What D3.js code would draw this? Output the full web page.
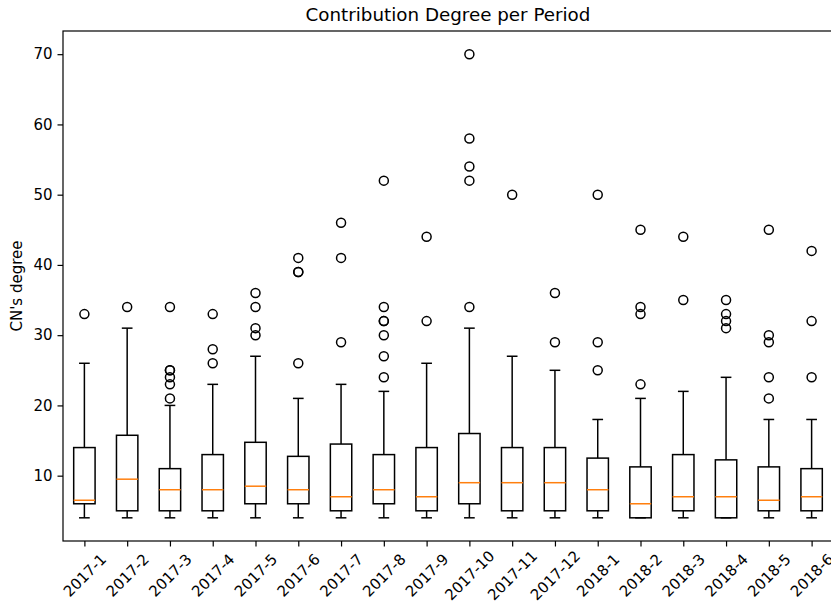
<!DOCTYPE html>
<html>
<head>
<meta charset="utf-8">
<script src="https://cdn.jsdelivr.net/npm/d3@7"></script>
<style>
  html, body { margin: 0; padding: 0; background: #fff; }
  svg { display: block; font-family: "DejaVu Sans", sans-serif; }
</style>
</head>
<body>
<svg id="chart" width="831" height="606"></svg>
<script>
const categories = ["2017-1","2017-2","2017-3","2017-4","2017-5","2017-6","2017-7","2017-8","2017-9","2017-10","2017-11","2017-12","2018-1","2018-2","2018-3","2018-4","2018-5","2018-6"];
const whiskerLow  = [4,4,4,4,4,4,4,4,4,4,4,4,4,4,4,4,4,4];
const q1          = [6,5,5,5,6,6,5,6,5,6,5,5,5,4,5,4,5,5];
const median      = [6.5,9.5,8,8,8.5,8,7,8,7,9,9,9,8,6,7,7,6.5,7];
const q3          = [14,15.75,11,13,14.75,12.75,14.5,13,14,16,14,14,12.5,11.25,13,12.25,11.25,11];
const whiskerHigh = [26,31,20,23,27,21,23,22,26,31,27,25,18,21,22,24,18,18];
const outliers = [
  [33],
  [34],
  [21,23,24,25,25,34],
  [26,28,33],
  [30,31,34,36],
  [26,39,39,41],
  [29,41,46],
  [24,27,30,32,32,34,52],
  [32,44],
  [34,52,54,58,70],
  [50],
  [29,36],
  [25,29,50],
  [23,33,34,45],
  [35,44],
  [31,32,33,35],
  [21,24,29,30,45],
  [24,32,42]
];
const yTicks = [10,20,30,40,50,60,70];
const title = "Contribution Degree per Period";
const yLabel = "CN's degree";

(function () {
const svg = d3.select("#chart");
const mLeft = 63, mRight = 833, mTop = 31, mBottom = 541;
const x = d3.scaleLinear().domain([0.5, categories.length + 0.5]).range([mLeft, mRight]);
const y = d3.scaleLinear().domain([0.7, 73.3]).range([mBottom, mTop]);
const pos = i => x(i + 1);
const boxHalf = (x(1.25) - x(1));     // widths 0.5
const capHalf = (x(1.125) - x(1));    // cap 0.25
const lw = 1.5;

const g = svg.append("g");

categories.forEach((c, i) => {
  const cx = pos(i);
  g.append("line").attr("x1", cx).attr("x2", cx).attr("y1", y(whiskerLow[i])).attr("y2", y(q1[i]))
    .attr("stroke", "#000").attr("stroke-width", lw);
  g.append("line").attr("x1", cx).attr("x2", cx).attr("y1", y(q3[i])).attr("y2", y(whiskerHigh[i]))
    .attr("stroke", "#000").attr("stroke-width", lw);
  [whiskerLow[i], whiskerHigh[i]].forEach(v => {
    g.append("line").attr("x1", cx - capHalf).attr("x2", cx + capHalf).attr("y1", y(v)).attr("y2", y(v))
      .attr("stroke", "#000").attr("stroke-width", lw);
  });
  g.append("rect").attr("x", cx - boxHalf).attr("width", boxHalf * 2)
    .attr("y", y(q3[i])).attr("height", y(q1[i]) - y(q3[i]))
    .attr("fill", "none").attr("stroke", "#000").attr("stroke-width", lw);
  g.append("line").attr("x1", cx - boxHalf).attr("x2", cx + boxHalf).attr("y1", y(median[i])).attr("y2", y(median[i]))
    .attr("stroke", "#ff7f0e").attr("stroke-width", lw);
  g.selectAll(null).data(outliers[i]).enter().append("circle")
    .attr("cx", cx).attr("cy", d => y(d)).attr("r", 4.5)
    .attr("fill", "none").attr("stroke", "#000").attr("stroke-width", lw);
});

svg.append("rect").attr("x", mLeft).attr("y", mTop).attr("width", mRight - mLeft).attr("height", mBottom - mTop)
  .attr("fill", "none").attr("stroke", "#000").attr("stroke-width", 1.2);

const yAxis = d3.axisLeft(y).tickValues(yTicks).tickSize(5.5).tickPadding(5).tickFormat(d3.format("d"));
const ya = svg.append("g").attr("transform", `translate(${mLeft},0)`).call(yAxis);
ya.select(".domain").remove();
ya.selectAll("line").attr("stroke", "#000").attr("stroke-width", 1.2);
ya.selectAll("text").attr("font-size", 15).attr("font-family", "DejaVu Sans").attr("fill", "#000");

const xAxis = d3.axisBottom(x).tickValues(categories.map((c, i) => i + 1)).tickSize(5.5).tickFormat(d => categories[d - 1]);
const xa = svg.append("g").attr("transform", `translate(0,${mBottom})`).call(xAxis);
xa.select(".domain").remove();
xa.selectAll("line").attr("stroke", "#000").attr("stroke-width", 1.2);
xa.selectAll("text")
  .attr("font-size", 15).attr("font-family", "DejaVu Sans").attr("fill", "#000")
  .attr("text-anchor", "middle").attr("dy", null).attr("y", 0)
  .attr("dominant-baseline", "central")
  .attr("transform", "translate(0,34.5) rotate(-45)");

svg.append("text").attr("x", (mLeft + mRight) / 2).attr("y", 20.5).attr("text-anchor", "middle")
  .attr("font-size", 18.3).attr("fill", "#000").text(title);

svg.append("text").attr("transform", `translate(22,${(mTop + mBottom) / 2}) rotate(-90)`)
  .attr("text-anchor", "middle").attr("font-size", 15).attr("fill", "#000").text(yLabel);
})();
</script>
</body>
</html>
